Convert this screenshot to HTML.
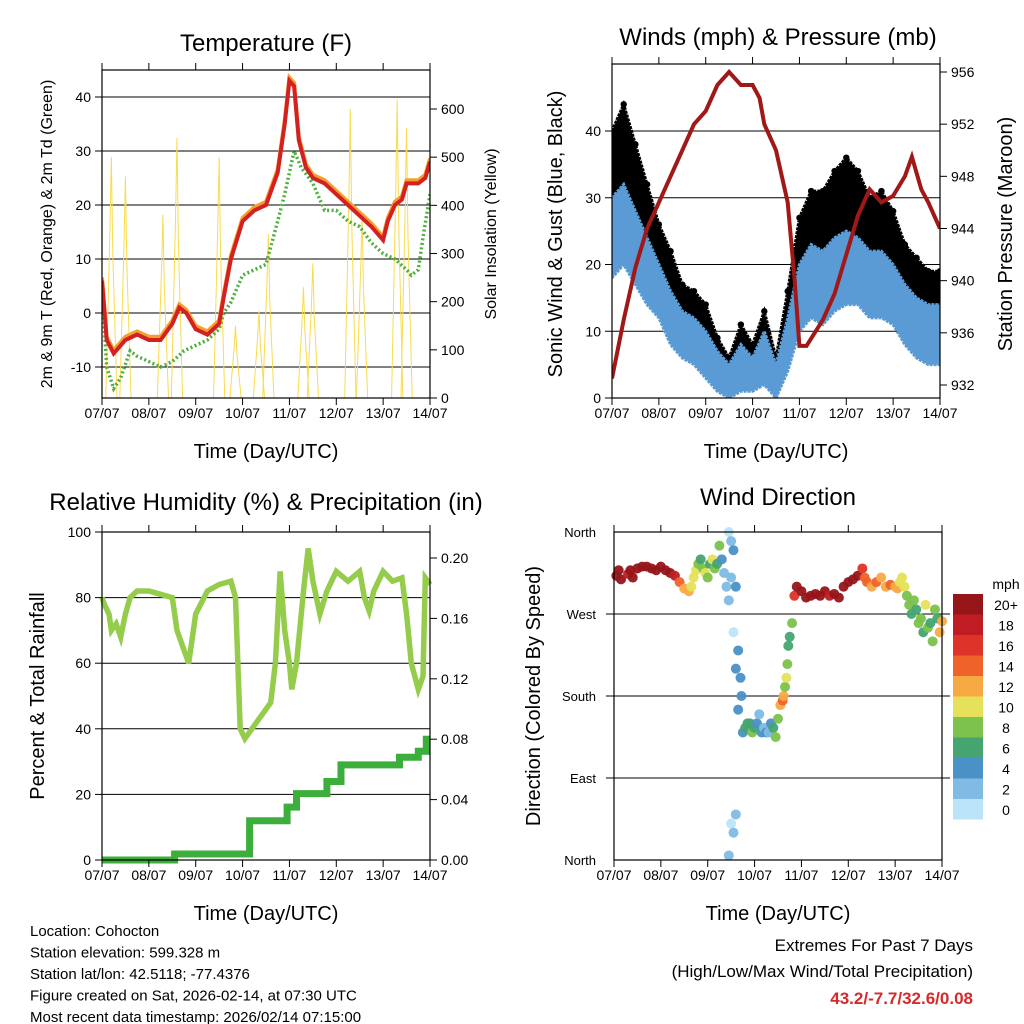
<!DOCTYPE html>
<html><head><meta charset="utf-8"><style>
body{margin:0;background:#fff}
svg{display:block;font-family:"Liberation Sans",Arial,sans-serif}
</style></head><body>
<svg id="c" width="1024" height="1024" viewBox="0 0 1024 1024"></svg>
<script>
// ---------- DATA ----------
const dayLabels=["07/07","08/07","09/07","10/07","11/07","12/07","13/07","14/07"];
// Temperature panel
const tDays=[0,0.1,0.25,0.5,0.75,1.0,1.25,1.5,1.65,1.8,2.0,2.25,2.5,2.6,2.75,3.0,3.25,3.5,3.75,3.9,4.0,4.1,4.2,4.35,4.5,4.75,5.0,5.25,5.5,5.75,6.0,6.1,6.25,6.4,6.5,6.75,6.9,7.0];
const tempF=[6,-5,-7.5,-5,-4,-5,-5,-2,1,0,-3,-4,-2,3,10,17,19,20,26,35,43,42,32,27,25,24,22,20,18,16,13.5,17,20,21,24,24,25,28];
const dDays=[0,0.1,0.25,0.4,0.6,0.75,1.0,1.25,1.5,1.75,2.0,2.25,2.5,2.6,2.75,3.0,3.25,3.5,3.75,3.9,4.0,4.1,4.25,4.5,4.75,5.0,5.25,5.5,5.75,6.0,6.25,6.5,6.6,6.75,6.85,7.0];
const dewF=[5,-10,-14,-12,-7,-8,-9,-10,-9,-7,-6,-5,-3,0,2,7,8,9,17,22,26,30,27,24,19,19,17,16,13,11,10,8,7,8,14,22];
const solarDays=[0.2,0.5,1.3,1.6,2.5,2.85,3.35,3.55,4.3,4.5,5.3,5.55,6.3,6.5];
const solarPeak=[500,460,380,540,500,150,180,340,230,280,600,380,620,560];
const tempTicks=[-10,0,10,20,30,40];
const solarTicks=[0,100,200,300,400,500,600];
// Winds panel
const wDays=[0,0.25,0.5,0.75,1,1.25,1.5,1.75,2,2.25,2.5,2.75,3,3.25,3.5,3.75,4,4.25,4.5,4.75,5,5.25,5.5,5.75,6,6.25,6.5,6.75,7];
const gustHi=[40,44,38,32,26,22,17,16,14,9,6,11,8,13,6,16,27,31,31,34,36,34,30,31,28,23,21,19,19];
const gustLo=[25,30,25,20,17,12,10,9,6,2,0,2,2,4,0,6,14,18,17,20,22,21,18,18,17,13,10,9,9];
const windHi=[30,32,28,24,20,16,13,12,10,7,5,8,6,10,5,12,20,23,22,24,25,24,22,22,20,17,15,14,14];
const windLo=[18,20,17,14,12,8,6,5,3,1,0,1,1,2,0,4,10,12,11,13,14,14,12,12,11,8,6,5,5];
const pDays=[0,0.25,0.5,0.75,1,1.25,1.5,1.75,2,2.25,2.5,2.75,3,3.15,3.25,3.5,3.75,3.9,4.0,4.15,4.5,4.75,5,5.25,5.5,5.75,6,6.25,6.4,6.6,6.75,7];
const pressMb=[932.5,937,941,944,946,948,950,952,953,955,956,955,955,954,952,950,946,940,935,935,937,939,942,945,947,946,946.5,948,949.5,947,946,944];
const windTicks=[0,10,20,30,40];
const pressTicks=[932,936,940,944,948,952,956];
// RH panel
const rhDays=[0,0.05,0.15,0.2,0.3,0.4,0.5,0.6,0.75,1,1.25,1.5,1.6,1.75,1.85,2,2.25,2.5,2.75,2.85,2.95,3.05,3.2,3.4,3.6,3.7,3.8,3.9,4.0,4.05,4.15,4.3,4.4,4.5,4.65,4.8,5.0,5.25,5.5,5.6,5.7,5.8,6.0,6.2,6.4,6.5,6.6,6.75,6.85,6.9,7.0];
const rhPct=[80,78,75,70,72,68,75,80,82,82,81,80,70,64,60,75,82,84,85,80,40,37,40,44,48,60,88,70,60,52,60,82,95,85,75,82,88,85,88,80,76,82,88,85,86,75,60,52,56,86,84];
const rainDays=[0,1.55,3.15,3.95,4.15,4.8,5.1,6.35,6.75,6.92,7.0];
const rainIn=[0,0.004,0.026,0.035,0.044,0.052,0.063,0.068,0.072,0.08,0.08];
const rhTicks=[0,20,40,60,80,100];
const rainTicks=[0,0.04,0.08,0.12,0.16,0.2];
// Wind direction panel
const dirDay=[0.05,0.1,0.15,0.3,0.35,0.4,0.5,0.6,0.7,0.8,0.9,1.0,1.1,1.2,1.3,1.4,1.5,1.6,1.65,1.7,1.75,1.8,1.85,1.9,1.95,2.0,2.05,2.1,2.15,2.2,2.25,2.3,2.35,2.4,2.45,2.45,2.5,2.5,2.55,2.55,2.6,2.6,2.65,2.65,2.7,2.72,2.5,2.55,2.6,2.45,2.75,2.8,2.85,2.9,2.95,3.0,3.05,3.1,3.15,3.2,3.25,3.3,3.35,3.4,3.45,3.5,3.55,3.6,3.62,3.65,3.68,3.7,3.72,3.75,3.8,3.85,3.9,4.0,4.1,4.2,4.3,4.4,4.5,4.6,4.7,4.8,4.9,5.0,5.1,5.2,5.3,5.35,5.4,5.5,5.6,5.7,5.8,5.9,6.0,6.05,6.1,6.15,6.2,6.25,6.3,6.35,6.4,6.45,6.5,6.55,6.6,6.65,6.7,6.75,6.8,6.85,6.9,6.95,7.0];
const dirDeg=[312,318,308,314,318,310,320,322,322,320,318,322,318,315,312,305,298,295,300,310,318,325,330,320,315,310,325,330,320,325,345,330,315,300,360,285,350,310,340,250,300,210,230,165,200,180,40,30,50,5,140,145,150,150,140,145,150,160,140,145,140,140,150,145,135,155,170,175,180,190,200,215,235,245,260,290,300,295,288,290,292,290,295,290,292,288,300,305,308,312,320,310,305,300,305,310,300,302,300,298,305,310,300,290,280,270,285,275,260,265,250,280,255,260,240,275,265,250,262,272,272];
const dirSpd=[21,21,21,19,20,21,21,21,21,20,20,21,21,20,18,15,13,12,11,10,10,8,7,8,10,9,7,10,9,6,8,4,3,3,1,3,3,2,4,1,4,4,4,5,4,4,1,2,2,2,5,6,6,7,8,6,5,3,4,3,5,2,4,6,8,9,12,14,12,9,10,8,7,6,8,16,20,21,21,20,21,21,20,19,21,20,21,22,21,21,17,15,14,13,14,12,13,15,12,12,10,11,10,9,8,7,8,7,8,9,7,10,9,6,8,9,6,12,13,16];
const spdColors=["#bce4f8","#7fbbe4","#4a91c7","#46a471","#7cc24c","#e6e15a","#f7aa44","#ef6229","#dd3328","#bf1d23","#961519"];
const spdLabels=["0","2","4","6","8","10","12","14","16","18","20+"];

// ---------- HELPERS ----------
const NS="http://www.w3.org/2000/svg", svg=document.getElementById('c');
function mk(tag,at,parent){const e=document.createElementNS(NS,tag);for(const k in at)e.setAttribute(k,at[k]);(parent||svg).appendChild(e);return e;}
function txt(s,x,y,size,anchor,parent,extra){const e=mk('text',Object.assign({x:x,y:y,'font-size':size,'text-anchor':anchor||'middle',fill:'#000'},extra||{}),parent);e.textContent=s;return e;}
function lin(d0,d1,r0,r1){return v=>r0+(v-d0)/(d1-d0)*(r1-r0);}
function path(xs,ys,sx,sy){return xs.map((v,i)=>(i?'L':'M')+sx(v).toFixed(1)+','+sy(ys[i]).toFixed(1)).join('');}

function frame(g,L,T,R,B,name){
  const f=mk('rect',{x:L,y:T,width:R-L,height:B-T,fill:'none',stroke:'#000','stroke-width':1.2},g);
  
  
  const sx=lin(0,7,L,R);
  const xa=mk('g',{},g);
  
  
  for(let d=0;d<=7;d++){
    const x=sx(d);
    mk('line',{x1:x,x2:x,y1:B,y2:B+7,stroke:'#000'},xa);
    mk('line',{x1:x,x2:x,y1:T,y2:T-7,stroke:'#000'},xa);
    const t=txt(dayLabels[d],x,B+20,14,'middle',xa);
    
    
  }
  const xt=txt('Time (Day/UTC)',(L+R)/2,B+60,20,'middle',g);
  
  
  return sx;
}
function yTicks(g,ticks,sy,x,side,fmt,grid,L,R){
  ticks.forEach(v=>{
    const y=sy(v);
    if(grid) mk('line',{x1:L,x2:R,y1:y,y2:y,stroke:'#000','stroke-width':1},g);
    mk('line',{x1:x,x2:x+(side<0?-7:7),y1:y,y2:y,stroke:'#000'},g);
    const t=txt(fmt(v),x+(side<0?-11:11),y+5,14,side<0?'end':'start',g);
    
    
  });
}
function title(s,x,y,name){const t=txt(s,x,y,24,'middle');}
function vtitle(s,x,y,size,g,name){const t=txt(s,0,0,size,'middle',g,{transform:`translate(${x},${y}) rotate(-90)`});}

// ---------- PANEL 1: TEMPERATURE ----------
(function(){
  const L=102,T=70,R=430,B=398;
  const g=mk('g',{});
  
  
  title('Temperature (F)',266,51,'temperature-title');
  const sy=lin(-10,40,367,97), ss=lin(0,600,398,109);
  const sx=lin(0,7,L,R);
  const clip=mk('clipPath',{id:'cp1'},g);mk('rect',{x:L,y:T,width:R-L,height:B-T},clip);
  const pg=mk('g',{'clip-path':'url(#cp1)'},g);
  tempTicks.forEach(v=>mk('line',{x1:L,x2:R,y1:sy(v),y2:sy(v),stroke:'#000'},pg));
  solarDays.forEach((d,i)=>{
    const p=mk('path',{d:`M${sx(d-0.12)},${ss(0)}L${sx(d-0.03)},${ss(solarPeak[i]*0.7)}L${sx(d)},${ss(solarPeak[i])}L${sx(d+0.03)},${ss(solarPeak[i]*0.6)}L${sx(d+0.12)},${ss(0)}`,fill:'none',stroke:'#f8dc50','stroke-width':1},pg);
    
    
  });
  const dp=mk('path',{d:path(dDays,dewF,sx,sy),fill:'none',stroke:'#4caf3c','stroke-width':3.5,'stroke-dasharray':'2 2.5'},pg);
  
  
  const t9=mk('path',{d:path(tDays,tempF.map(v=>v+0.6),sx,sy),fill:'none',stroke:'#f4a030','stroke-width':4},pg);
  
  
  const tp=mk('path',{d:path(tDays,tempF,sx,sy),fill:'none',stroke:'#d42020','stroke-width':4},pg);
  
  
  frame(g,L,T,R,B,'temperature');
  yTicks(g,tempTicks,sy,L,-1,v=>v,false);
  yTicks(g,solarTicks,ss,R,1,v=>v,false);
  vtitle('2m & 9m T (Red, Orange) & 2m Td (Green)',52,234,16,g,'temperature-y-title');
  vtitle('Solar Insolation (Yellow)',496,234,16,g,'solar-y-title');
})();

// ---------- PANEL 2: WINDS ----------
(function(){
  const L=612,T=64,R=940,B=398;
  const g=mk('g',{});
  
  
  title('Winds (mph) & Pressure (mb)',778,45,'winds-title');
  const sy=lin(0,40,398,131), sp=lin(932,956,385,72), sx=lin(0,7,L,R);
  const clip=mk('clipPath',{id:'cp2'},g);mk('rect',{x:L,y:T,width:R-L,height:B-T},clip);
  const pg=mk('g',{'clip-path':'url(#cp2)'},g);
  windTicks.slice(1).forEach(v=>mk('line',{x1:L,x2:R,y1:sy(v),y2:sy(v),stroke:'#000'},pg));
  const band=(hi,lo,col,name)=>{
    const d=path(wDays,hi,sx,sy)+wDays.slice().reverse().map((v,i)=>'L'+sx(v).toFixed(1)+','+sy(lo[lo.length-1-i]).toFixed(1)).join('')+'Z';
    const p=mk('path',{d:d,fill:col,stroke:col,'stroke-width':3,'stroke-dasharray':'3 1'},pg);
    
    
  };
  band(gustHi,gustLo,'#000','gust-band');
  wDays.forEach((d,i)=>{const c=mk('circle',{cx:sx(d),cy:sy(gustHi[i]),r:3.2,fill:'#000'},pg);});
  band(windHi,windLo,'#5b9bd5','sonic-wind-band');
  const pr=mk('path',{d:path(pDays,pressMb,sx,sp),fill:'none',stroke:'#a01818','stroke-width':4},pg);
  
  
  frame(g,L,T,R,B,'winds');
  yTicks(g,windTicks,sy,L,-1,v=>v,false);
  yTicks(g,pressTicks,sp,R,1,v=>v,false);
  vtitle('Sonic Wind & Gust (Blue, Black)',562,234,20,g,'wind-y-title');
  vtitle('Station Pressure (Maroon)',1012,234,20,g,'pressure-y-title');
})();

// ---------- PANEL 3: RH ----------
(function(){
  const L=102,T=532,R=430,B=860;
  const g=mk('g',{});
  
  
  title('Relative Humidity (%) & Precipitation (in)',266,510,'humidity-title');
  const sy=lin(0,100,860,532), sr=lin(0,0.2,860,558), sx=lin(0,7,L,R);
  const clip=mk('clipPath',{id:'cp3'},g);mk('rect',{x:L-5,y:T,width:R-L+10,height:B-T+5},clip);
  const pg=mk('g',{'clip-path':'url(#cp3)'},g);
  rhTicks.slice(1,5).forEach(v=>mk('line',{x1:L,x2:R,y1:sy(v),y2:sy(v),stroke:'#000'},pg));
  let rd='M'+sx(rainDays[0]).toFixed(1)+','+sr(rainIn[0]).toFixed(1);
  for(let i=1;i<rainDays.length;i++){
    rd+='L'+sx(rainDays[i]).toFixed(1)+','+sr(rainIn[i-1]).toFixed(1)+'L'+sx(rainDays[i]).toFixed(1)+','+sr(rainIn[i]).toFixed(1);
  }
  const rp=mk('path',{d:rd,fill:'none',stroke:'#3cae3c','stroke-width':7},pg);
  
  
  const rh=mk('path',{d:path(rhDays,rhPct,sx,sy),fill:'none',stroke:'#96cc4c','stroke-width':5.5},pg);
  
  
  frame(g,L,T,R,B,'humidity');
  yTicks(g,rhTicks,sy,L,-1,v=>v,false);
  yTicks(g,rainTicks,sr,R,1,v=>v.toFixed(2),false);
  vtitle('Percent & Total Rainfall',44,696,20,g,'humidity-y-title');
})();

// ---------- PANEL 4: WIND DIRECTION ----------
(function(){
  const L=614,T=532,R=942,B=860;
  const g=mk('g',{});
  
  
  title('Wind Direction',778,505,'wind-direction-title');
  const sy=lin(0,360,860,532), sx=lin(0,7,L,R);
  const names=['North','East','South','West','North'];
  [90,180,270].forEach(v=>mk('line',{x1:L-8,x2:R+8,y1:sy(v),y2:sy(v),stroke:'#000'},g));
  names.forEach((n,i)=>{const t=txt(n,L-18,sy(i*90)+5,13,'end',g);});
  dirDay.forEach((d,i)=>{
    const ci=Math.min(10,Math.max(0,Math.floor(dirSpd[i]/2)));
    const c=mk('circle',{cx:sx(d),cy:sy(dirDeg[i]),r:5,fill:spdColors[ci],opacity:0.95},g);
    
    
  });
  frame(g,L,T,R,B,'wind-direction');
  vtitle('Direction (Colored By Speed)',540,696,20,g,'direction-y-title');
  const cb=mk('g',{},g);
  
  
  txt('mph',1006,589,14,'middle',cb);
  spdColors.forEach((c,i)=>{
    const y=594+(10-i)*20.5;
    const r=mk('rect',{x:953,y:y,width:30,height:20.5,fill:c},cb);
    
    
    const t=txt(spdLabels[i],1006,y+16,14,'middle',cb);
    
    
  });
})();

// ---------- FOOTER ----------
const info=["Location: Cohocton","Station elevation: 599.328 m","Station lat/lon: 42.5118; -77.4376","Figure created on Sat, 2026-02-14, at 07:30 UTC","Most recent data timestamp: 2026/02/14 07:15:00"];
info.forEach((s,i)=>{const t=txt(s,30,936+i*21.5,15,'start');});
let e=txt('Extremes For Past 7 Days',973,951,17,'end');
e=txt('(High/Low/Max Wind/Total Precipitation)',973,977,17,'end');
e=txt('43.2/-7.7/32.6/0.08',973,1004,17,'end',null,{fill:'#d42a2a','font-weight':'bold'});
</script>
</body></html>
